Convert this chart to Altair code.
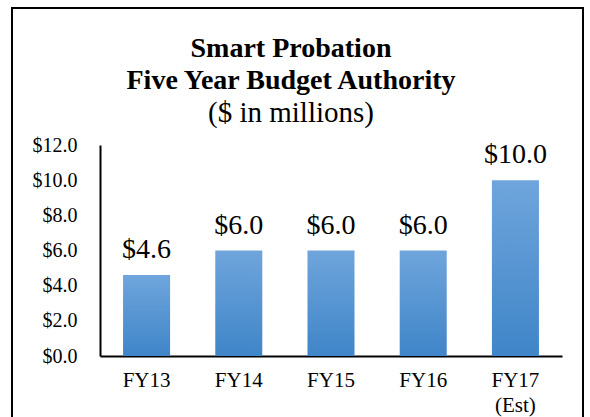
import altair as alt
import pandas as pd

categories = ["FY13", "FY14", "FY15", "FY16", "FY17 (Est)"]
values = [4.6, 6.0, 6.0, 6.0, 10.0]
value_labels = ["$4.6", "$6.0", "$6.0", "$6.0", "$10.0"]
y_ticks = [0, 2, 4, 6, 8, 10, 12]

df = pd.DataFrame({"year": categories, "value": values, "label": value_labels})

FONT = "Liberation Serif"

gradient = alt.Gradient(
    gradient="linear",
    stops=[alt.GradientStop(color="#6fa5dc", offset=0),
           alt.GradientStop(color="#3f85c8", offset=1)],
    x1=0, x2=0, y1=0, y2=1,
)

x_enc = alt.X("year:N", sort=categories, title=None,
              scale=alt.Scale(paddingInner=0.49, paddingOuter=0.25),
              axis=alt.Axis(labelAngle=0, labelFont=FONT, labelFontSize=21,
                            labelColor="black", labelPadding=13, tickSize=0,
                            domainColor="black", domainWidth=2, labelOverlap=False,
                            labelExpr="split(datum.label, ' ')", labelLineHeight=25))
y_enc = alt.Y("value:Q", title=None,
              scale=alt.Scale(domain=[0, 12], nice=False),
              axis=alt.Axis(values=y_ticks, format="$.1f",
                            labelFont=FONT, labelFontSize=20, labelColor="black",
                            labelPadding=23, tickSize=0, grid=False,
                            labelOverlap=False, labelFlush=False,
                            domainColor="black", domainWidth=2))

bars = alt.Chart(df).mark_bar(color=gradient).encode(x=x_enc, y=y_enc)

labels = alt.Chart(df).mark_text(font=FONT, fontSize=28, color="black",
                                 baseline="alphabetic", dy=-17).encode(
    x=x_enc, y=y_enc, text="label:N")

frame = alt.Chart(df).mark_rect(fill=None, stroke="black", strokeWidth=1.5).encode(
    x=alt.value(-88), x2=alt.value(483), y=alt.value(-137), y2=alt.value(300))

chart = alt.layer(frame, bars, labels).properties(
    width=462, height=211,
    background="white",
    autosize=alt.AutoSizeParams(type="none"),
    padding={"left": 100, "top": 145, "right": 28, "bottom": 61},
    title=alt.TitleParams(
        text=["Smart Probation", "Five Year Budget Authority"],
        subtitle="($ in millions)",
        font=FONT, fontSize=28, fontWeight="bold", color="black", lineHeight=32,
        subtitleFont=FONT, subtitleFontSize=29, subtitleColor="black",
        subtitleFontWeight="normal", subtitlePadding=4,
        anchor="middle", dx=-40, offset=-121,
    ),
).configure_view(stroke="transparent", strokeWidth=0).configure_axis(labelOverlap=False)

chart.save("out.html", embed_options={"renderer": "svg", "actions": False})
